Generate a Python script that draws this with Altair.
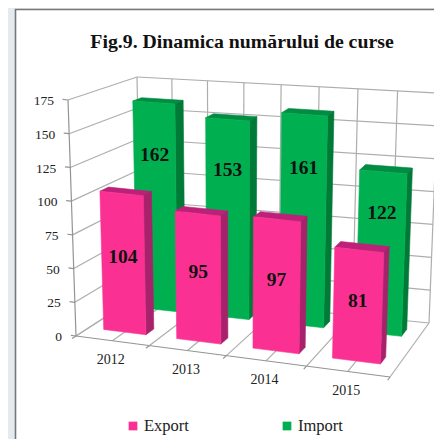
import altair as alt
import pandas as pd

categories = ["2012", "2013", "2014", "2015"]
export_values = [104, 95, 97, 81]
import_values = [162, 153, 161, 122]
value_ticks = [0, 25, 50, 75, 100, 125, 150, 175]
series_names = ["Export", "Import"]
title_text = "Fig.9. Dinamica numărului de curse"

VMAX = 175.0
W, H = 426, 431
FONT = "Liberation Serif"
GRID = "#adadad"
AXIS = "#949494"
PINK = ("#fa3193", "#a8226b", "#bd2078")   # front, side, top
GREEN = ("#00b050", "#007a37", "#008c42")
BG = "#e4eaee"

# The eight corners of the chart's 3-D box, as seen in the picture
FLB, FRB, BLB, BRB = (76, 336), (390, 377), (141, 294), (429, 323)
FLT, FRT, BLT, BRT = (68, 100), (398, 133), (137, 77), (438, 93)


def warp(u):
    return 0.915 * u + 0.085 * u * u


def lerp(a, b, f):
    return (a[0] + (b[0] - a[0]) * f, a[1] + (b[1] - a[1]) * f)


def project(u, w, v):
    """category position u, depth w, value v -> picture position"""
    t = warp(u)
    bottom = lerp(lerp(FLB, FRB, t), lerp(BLB, BRB, t), w)
    top = lerp(lerp(FLT, FRT, t), lerp(BLT, BRT, t), w)
    return lerp(bottom, top, v / VMAX)


HALF = 0.073
ROWS = {"Export": (0.20, 0.33), "Import": (0.72, 0.85)}
LABEL_AT = {"Export": 0.54, "Import": 0.745}

segs, faces, labels = [], [], []


def seg(name, p, q, color=GRID, width=1.2):
    segs.append(dict(id=name, o=0, x=p[0], y=p[1], c=color, sw=width))
    segs.append(dict(id=name, o=1, x=q[0], y=q[1], c=color, sw=width))


for v in value_ticks:
    seg(f"l{v}", project(0, 0, v), project(0, 1, v))
    seg(f"b{v}", project(0, 1, v), project(1, 1, v))
    seg(f"t{v}", project(-0.018, 0, v), project(0, 0, v), AXIS)
for i in range(9):
    u = i / 8
    seg(f"v{i}", project(u, 1, 0), project(u, 1, VMAX))
    seg(f"f{i}", project(u, 0, 0), project(u, 1, 0))
    if i % 2 == 0:
        seg(f"x{i}", project(u, -0.06, 0), project(u, 0, 0), AXIS)
seg("axisY", project(0, 0, 0), project(0, 0, VMAX), AXIS)
seg("axisX", project(0, 0, 0), project(1, 0, 0), AXIS)


def add_face(name, pts, color):
    for o, p in enumerate(pts + pts[:1]):
        faces.append(dict(id=name, o=o, x=p[0], y=p[1], c=color))


for name, vals, cols in (("Import", import_values, GREEN), ("Export", export_values, PINK)):
    w0, w1 = ROWS[name]
    for i, val in enumerate(vals):
        c = (i + 0.5) / 4
        a, b = c - HALF, c + HALF
        add_face(f"{name}{i}top",
                 [project(a, w0, val), project(b, w0, val), project(b, w1, val), project(a, w1, val)], cols[2])
        add_face(f"{name}{i}side",
                 [project(b, w0, 0), project(b, w1, 0), project(b, w1, val), project(b, w0, val)], cols[1])
        add_face(f"{name}{i}front",
                 [project(a, w0, 0), project(b, w0, 0), project(b, w0, val), project(a, w0, val)], cols[0])
        p = project(c, w0, val * LABEL_AT[name])
        labels.append(dict(x=p[0], y=p[1], t=str(val)))

X = alt.X("x:Q", axis=None, scale=alt.Scale(domain=[8, 434], nice=False, zero=False))
Y = alt.Y("y:Q", axis=None, scale=alt.Scale(domain=[439, 8], nice=False, zero=False))

panel = alt.Chart(pd.DataFrame({"a": [0]})).mark_rect(
    fill="white", stroke="#777777", strokeWidth=1.6
).encode(x=alt.value(7.5), x2=alt.value(W + 20), y=alt.value(1.5), y2=alt.value(H + 20))

grid = alt.Chart(pd.DataFrame(segs)).mark_line(interpolate="linear").encode(
    x=X, y=Y, detail="id:N", order="o:Q",
    color=alt.Color("c:N", scale=None),
    strokeWidth=alt.StrokeWidth("sw:Q", scale=None),
)

bars = alt.Chart(pd.DataFrame(faces)).mark_line(strokeWidth=0.6, filled=True).encode(
    x=X, y=Y, detail="id:N", order="o:Q",
    fill=alt.Fill("c:N", scale=None),
    stroke=alt.Stroke("c:N", scale=None),
)

value_text = alt.Chart(pd.DataFrame(labels)).mark_text(
    font=FONT, fontSize=19.5, fontWeight="bold", color="#111111"
).encode(x=X, y=Y, text="t:N")

yt = [dict(zip("xy", project(0, 0, v))) | {"t": str(v)} for v in value_ticks]
y_labels = alt.Chart(pd.DataFrame(yt)).mark_text(
    font=FONT, fontSize=13.5, align="right", dx=-14, dy=1.2, color="#222222"
).encode(x=X, y=Y, text="t:N")

xt = [dict(zip("xy", project((i + 0.5) / 4, 0, 0))) | {"t": c} for i, c in enumerate(categories)]
x_labels = alt.Chart(pd.DataFrame(xt)).mark_text(
    font=FONT, fontSize=14, dx=-1.5, dy=19.5, color="#222222"
).encode(x=X, y=Y, text="t:N")

title = alt.Chart(pd.DataFrame({"t": [title_text], "x": [242], "y": [42]})).mark_text(
    font=FONT, fontSize=19.8, fontWeight="bold", color="#111111"
).encode(x=X, y=Y, text="t:N")

legend_df = pd.DataFrame({
    "t": series_names, "x": [133, 287], "y": [426, 426], "c": [PINK[0], GREEN[0]],
})
legend_marks = alt.Chart(legend_df).mark_square(size=76, opacity=1).encode(
    x=X, y=Y, fill=alt.Fill("c:N", scale=None), stroke=alt.value(None)
)
legend_text = alt.Chart(legend_df).mark_text(
    font=FONT, fontSize=16.5, align="left", dx=11, color="#222222"
).encode(x=X, y=Y, text="t:N")

chart = alt.layer(
    panel, grid, bars, value_text, y_labels, x_labels, title, legend_marks, legend_text
).properties(
    width=W, height=H, background=BG, padding=0, autosize=alt.AutoSizeParams(type="none")
).configure_view(stroke=None)

chart.save("out.html", embed_options={"renderer": "svg", "actions": False})
